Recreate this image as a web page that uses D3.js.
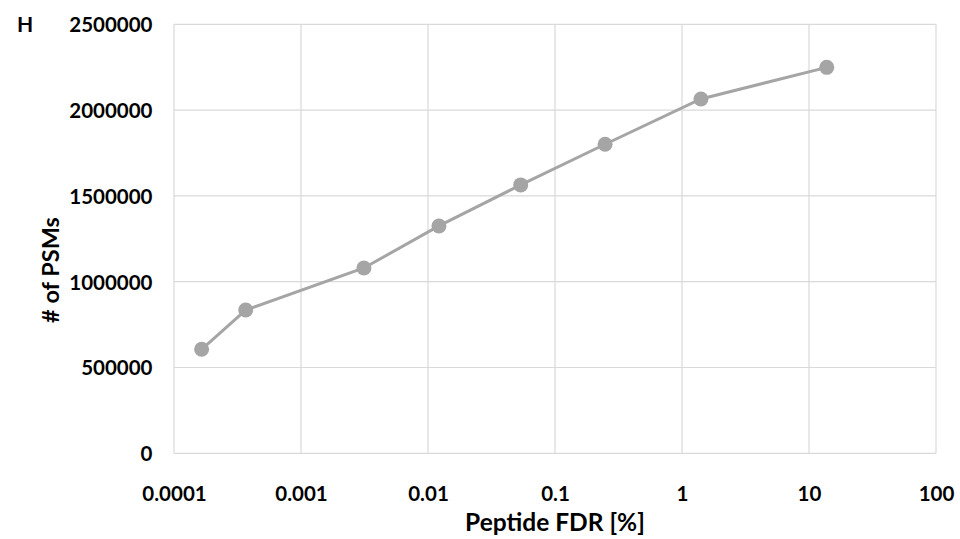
<!DOCTYPE html>
<html><head><meta charset="utf-8">
<script src="https://cdn.jsdelivr.net/npm/d3@7"></script>
<style>body{margin:0;background:#fff}svg{display:block}text{font-family:Lato,"Open Sans",sans-serif;font-weight:bold;fill:#000}</style>
</head><body>
<svg id="c" width="960" height="539"></svg>
<script>
const fdr = [0.000165, 0.000367, 0.00313, 0.0122, 0.0537, 0.248, 1.41, 13.8];
const psms = [606000, 835000, 1080000, 1325000, 1564000, 1801000, 2065000, 2249000];
const xTicks = [0.0001, 0.001, 0.01, 0.1, 1, 10, 100];
const xTickLabels = ["0.0001", "0.001", "0.01", "0.1", "1", "10", "100"];
const yTicks = [0, 500000, 1000000, 1500000, 2000000, 2500000];

const svg = d3.select("#c");
const L = 174, R = 936, T = 24.3, B = 453.3;
const x = d3.scaleLog().domain([0.0001, 100]).range([L, R]);
const y = d3.scaleLinear().domain([0, 2500000]).range([B, T]);

// gridlines
svg.append("g").selectAll("line").data(xTicks).join("line")
  .attr("x1", d => x(d)).attr("x2", d => x(d)).attr("y1", T).attr("y2", B)
  .attr("stroke", "#d9d9d9").attr("stroke-width", 1.2);
svg.append("g").selectAll("line").data(yTicks).join("line")
  .attr("x1", L).attr("x2", R).attr("y1", d => y(d)).attr("y2", d => y(d))
  .attr("stroke", "#d9d9d9").attr("stroke-width", 1.2);

// axes labels via d3 axes
const xAxis = d3.axisBottom(x).tickValues(xTicks).tickFormat((d, i) => xTickLabels[i]).tickSize(0).tickPadding(0);
const gx = svg.append("g").attr("transform", "translate(0,501)").call(xAxis);
gx.select(".domain").remove();
gx.selectAll("text").attr("font-size", 20.5).attr("font-family", "Lato").attr("font-weight", "bold").attr("fill", "#000").attr("dy", "0").attr("y", 0);

const yAxis = d3.axisLeft(y).tickValues(yTicks).tickFormat(d3.format("d")).tickSize(0).tickPadding(0);
const gy = svg.append("g").attr("transform", `translate(${L - 21.5},0)`).call(yAxis);
gy.select(".domain").remove();
gy.selectAll("text").attr("font-size", 20.5).attr("font-family", "Lato").attr("font-weight", "bold").attr("fill", "#000").attr("dy", "0.36em");

// line
const pts = fdr.map((d, i) => [d, psms[i]]);
svg.append("path").datum(pts)
  .attr("d", d3.line().x(d => x(d[0])).y(d => y(d[1])))
  .attr("fill", "none").attr("stroke", "#a5a5a5").attr("stroke-width", 3);
svg.append("g").selectAll("circle").data(pts).join("circle")
  .attr("cx", d => x(d[0])).attr("cy", d => y(d[1])).attr("r", 7.5).attr("fill", "#a5a5a5");

// titles
svg.append("text").attr("x", (L + R) / 2).attr("y", 531).attr("text-anchor", "middle").attr("font-size", 24.5).text("Peptide FDR [%]");
svg.append("text").attr("transform", "translate(59,270) rotate(-90)").attr("text-anchor", "middle").attr("font-size", 23.5).text("# of PSMs");
svg.append("text").attr("x", 17).attr("y", 32).attr("font-size", 21).text("H");
</script>
</body></html>
